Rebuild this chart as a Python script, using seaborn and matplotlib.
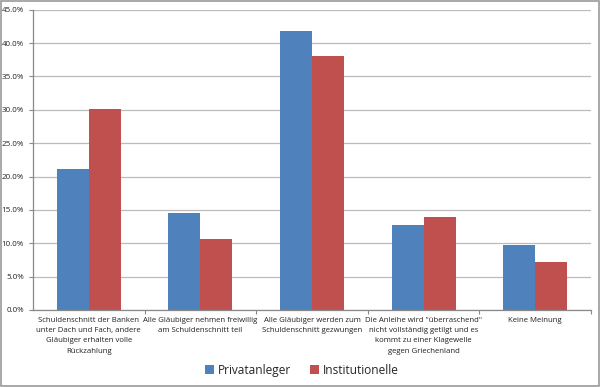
import matplotlib
matplotlib.use("Agg")
import matplotlib.pyplot as plt
import seaborn as sns
import pandas as pd
from matplotlib.ticker import FuncFormatter, MultipleLocator
from matplotlib.patches import Rectangle

categories = [
    "Schuldenschnitt der Banken\nunter Dach und Fach, andere\nGläubiger erhalten volle\nRückzahlung",
    "Alle Gläubiger nehmen freiwillig\nam Schuldenschnitt teil",
    "Alle Gläubiger werden zum\nSchuldenschnitt gezwungen",
    "Die Anleihe wird \"überraschend\"\nnicht vollständig getilgt und es\nkommt zu einer Klagewelle\ngegen Griechenland",
    "Keine Meinung",
]
series_names = ["Privatanleger", "Institutionelle"]
privat = [21.2, 14.6, 41.8, 12.7, 9.7]
institutionelle = [30.1, 10.6, 38.1, 14.0, 7.2]

df = pd.DataFrame({
    "cat": categories * 2,
    "serie": [series_names[0]] * 5 + [series_names[1]] * 5,
    "val": privat + institutionelle,
})

sns.set_style("white")
plt.rcParams["font.family"] = ["Open Sans", "DejaVu Sans"]

fig = plt.figure(figsize=(6, 3.87), dpi=100)
ax = fig.add_axes([0.055, 0.199, 0.93, 0.776])

sns.barplot(data=df, x="cat", y="val", hue="serie", order=categories,
            hue_order=series_names, palette=["#4F81BD", "#C0504D"],
            width=0.575, gap=0, ax=ax, errorbar=None, saturation=1,
            edgecolor="none", linewidth=0)

ax.set_ylim(0, 45)
ax.set_xlim(-0.5, 4.5)
ax.yaxis.set_major_locator(MultipleLocator(5))
ax.yaxis.set_major_formatter(FuncFormatter(lambda v, p: f"{v:.1f}%"))
ax.yaxis.grid(True, color="#BBBBBB", linewidth=0.9)
ax.set_axisbelow(True)
ax.set_xlabel("")
ax.set_ylabel("")

for s in ["top", "right"]:
    ax.spines[s].set_visible(False)
for s in ["left", "bottom"]:
    ax.spines[s].set_color("#888888")
    ax.spines[s].set_linewidth(0.9)

ax.set_xticks(range(5))
ax.set_xticklabels(categories, fontsize=5.6, color="#222222", linespacing=1.65)
ax.tick_params(axis="x", length=0, pad=5)
ax.tick_params(axis="y", labelsize=5.8, colors="#222222", length=3,
               direction="out", width=0.8, color="#888888", left=True)
ax.set_xticks([0.5, 1.5, 2.5, 3.5, 4.5], minor=True)
ax.tick_params(axis="x", which="minor", length=3, width=0.8, color="#888888",
               direction="out", bottom=True)

ax.legend_.remove()
handles, labels = ax.get_legend_handles_labels()
fig.legend(handles, labels, loc="center", bbox_to_anchor=(0.503, 0.043),
           ncol=2, frameon=False, fontsize=8.6, handlelength=0.75,
           handleheight=0.75, handletextpad=0.35, columnspacing=1.6)

fig.patches.append(Rectangle((0.001, 0.002), 0.997, 0.995, transform=fig.transFigure,
                             fill=False, edgecolor="#999999", linewidth=1.2))

fig.savefig("out.png", dpi=100)
